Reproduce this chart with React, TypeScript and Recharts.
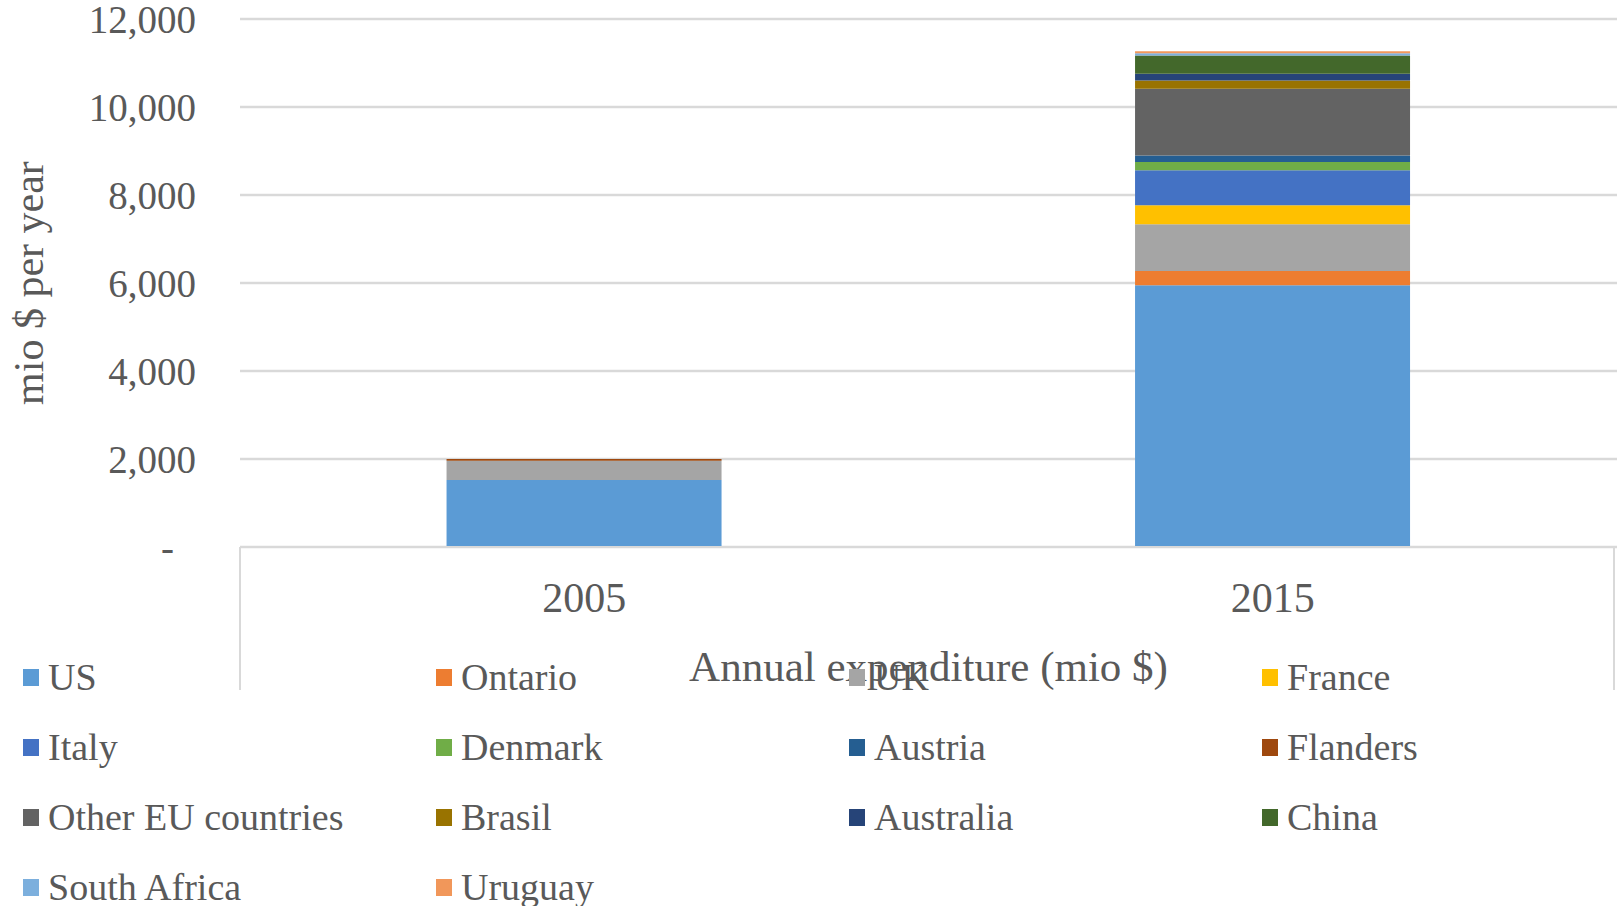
import React from 'react';
import { BarChart, Bar, XAxis, YAxis, CartesianGrid, Legend } from 'recharts';

// categories + series (mio $ per year)
const years = ['2005', '2015'];
const us = [1520, 5950];
const ontario = [0, 325];
const uk = [440, 1060];
const france = [0, 430];
const italy = [0, 795];
const denmark = [0, 190];
const austria = [0, 150];
const flanders = [40, 0];
const otherEU = [0, 1515];
const brasil = [0, 190];
const australia = [0, 150];
const china = [0, 415];
const southAfrica = [0, 50];
const uruguay = [0, 45];

const yTicks = [0, 2000, 4000, 6000, 8000, 10000, 12000];

const series = [
  { key: 'us', name: 'US', values: us, color: '#5B9BD5' },
  { key: 'ontario', name: 'Ontario', values: ontario, color: '#ED7D31' },
  { key: 'uk', name: 'UK', values: uk, color: '#A5A5A5' },
  { key: 'france', name: 'France', values: france, color: '#FFC000' },
  { key: 'italy', name: 'Italy', values: italy, color: '#4472C4' },
  { key: 'denmark', name: 'Denmark', values: denmark, color: '#70AD47' },
  { key: 'austria', name: 'Austria', values: austria, color: '#255E91' },
  { key: 'flanders', name: 'Flanders', values: flanders, color: '#9E480E' },
  { key: 'otherEU', name: 'Other EU countries', values: otherEU, color: '#636363' },
  { key: 'brasil', name: 'Brasil', values: brasil, color: '#997300' },
  { key: 'australia', name: 'Australia', values: australia, color: '#264478' },
  { key: 'china', name: 'China', values: china, color: '#43682B' },
  { key: 'southAfrica', name: 'South Africa', values: southAfrica, color: '#7CAFDD' },
  { key: 'uruguay', name: 'Uruguay', values: uruguay, color: '#F1975A' },
];

const data = years.map((year, i) => {
  const row: Record<string, any> = { year };
  series.forEach((s) => {
    row[s.key] = s.values[i];
  });
  return row;
});

const W = 1617;
const H = 906;
const MARGIN = { top: 19, right: 0, bottom: 329, left: 0 };
const Y_AXIS_W = 240;
const X_TICK_MARGIN = 35;
const FONT = '"Liberation Serif", "Times New Roman", serif';
const TEXT = '#595959';
const GRID = '#d9d9d9';

const PLOT_W = W - MARGIN.left - MARGIN.right - Y_AXIS_W;
const BAND = PLOT_W / years.length;

const YTick = (props: any) => {
  const { x, y, payload } = props;
  const v = payload.value;
  return (
    <text
      x={x}
      y={y}
      dx={v === 0 ? -22 : 0}
      dy="0.355em"
      textAnchor="end"
      fill={TEXT}
      fontSize={39}
      fontFamily={FONT}
    >
      {v === 0 ? '-' : v.toLocaleString('en-US')}
    </text>
  );
};

// category labels, plus the long divider ticks at both outer edges
const XTick = (props: any) => {
  const { x, y, payload, index } = props;
  const axisY = y - X_TICK_MARGIN;
  return (
    <g>
      {index === 0 && (
        <line x1={x - BAND / 2} x2={x - BAND / 2} y1={axisY} y2={axisY + 143} stroke={GRID} strokeWidth={2} />
      )}
      {index === years.length - 1 && (
        <line x1={x + BAND / 2 - 3} x2={x + BAND / 2 - 3} y1={axisY} y2={axisY + 143} stroke={GRID} strokeWidth={2} />
      )}
      <text x={x} y={y} dy="0.71em" textAnchor="middle" fill={TEXT} fontSize={42} fontFamily={FONT}>
        {payload.value}
      </text>
    </g>
  );
};

const LegendGrid = () => (
  <div
    style={{
      display: 'grid',
      gridTemplateColumns: 'repeat(4, 413px)',
      gridAutoRows: '70px',
      fontFamily: FONT,
      fontSize: 38,
      color: TEXT,
    }}
  >
    {series.map((s) => (
      <div key={s.key} style={{ display: 'flex', alignItems: 'center', whiteSpace: 'nowrap' }}>
        <span style={{ display: 'inline-block', width: 16, height: 17, background: s.color, marginRight: 9 }} />
        <span style={{ lineHeight: 1 }}>{s.name}</span>
      </div>
    ))}
  </div>
);

export default function App() {
  return (
    <div style={{ position: 'absolute', left: 0, top: 0, width: W, height: H, background: '#fff' }}>
      <style>{'body{margin:0}'}</style>
      <BarChart width={W} height={H} data={data} margin={MARGIN} barCategoryGap="30%">
        <CartesianGrid vertical={false} stroke={GRID} strokeWidth={2.5} />
        <XAxis
          dataKey="year"
          axisLine={{ stroke: GRID, strokeWidth: 2 }}
          tickLine={false}
          tickSize={0}
          tickMargin={X_TICK_MARGIN}
          tick={<XTick />}
          label={{
            value: 'Annual expenditure (mio $)',
            position: 'bottom',
            offset: 73,
            fill: TEXT,
            fontSize: 43,
            fontFamily: FONT,
          }}
        />
        <YAxis
          width={Y_AXIS_W}
          domain={[0, 12000]}
          ticks={yTicks}
          axisLine={false}
          tickLine={false}
          tickSize={0}
          tickMargin={44}
          tick={<YTick />}
          label={{
            value: 'mio $ per year',
            angle: -90,
            position: 'insideLeft',
            offset: 28,
            fill: TEXT,
            fontSize: 42,
            fontFamily: FONT,
            style: { textAnchor: 'middle' },
          }}
        />
        <Legend
          layout="horizontal"
          verticalAlign="middle"
          align="center"
          content={<LegendGrid />}
          wrapperStyle={{ top: 642, left: 23, width: 1652, height: 280 }}
        />
        {series.map((s) => (
          <Bar key={s.key} dataKey={s.key} name={s.name} stackId="a" fill={s.color} isAnimationActive={false} />
        ))}
      </BarChart>
    </div>
  );
}
